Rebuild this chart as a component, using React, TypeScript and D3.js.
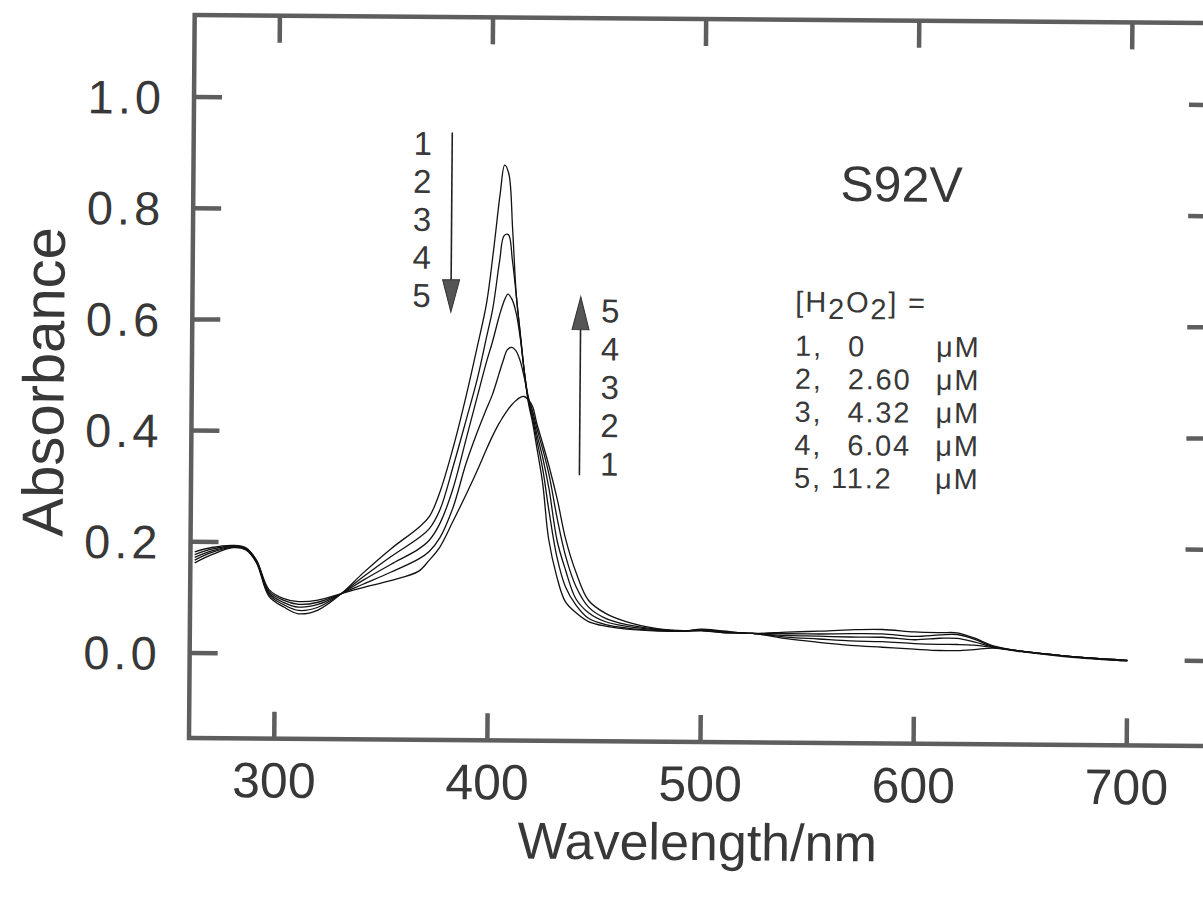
import React, { useEffect, useRef } from 'react';
import * as d3 from 'd3';

// wavelength nodes (nm) shared by all five spectra
const wavelengths = [
  262, 270, 280, 286, 291, 297, 304, 311, 320, 331, 341, 354, 367, 372, 377, 383, 389, 394, 398,
  401, 404, 406, 408, 410, 412, 414, 416, 418, 420, 422, 425, 428, 432, 436, 441, 447, 455, 465,
  480, 492, 500, 510, 524, 540, 555, 570, 585, 600, 612, 620, 628, 637, 650, 665, 680, 700,
];

// absorbance, spectrum 1 (0 uM H2O2) .. 5 (11.2 uM)
const spectrum1 = [
  0.162, 0.177, 0.19, 0.186, 0.163, 0.103, 0.084, 0.072, 0.079, 0.109, 0.146, 0.19, 0.229, 0.249,
  0.295, 0.375, 0.47, 0.558, 0.633, 0.725, 0.83, 0.882, 0.866, 0.765, 0.645, 0.578, 0.51, 0.455, 0.42,
  0.377, 0.31, 0.21, 0.142, 0.098, 0.078, 0.062, 0.054, 0.049, 0.046, 0.046, 0.05, 0.047, 0.043,
  0.046, 0.048, 0.051, 0.052, 0.048, 0.047, 0.047, 0.038, 0.024, 0.015, 0.009, 0.004, 0.0,
];
const spectrum2 = [
  0.167, 0.181, 0.191, 0.187, 0.165, 0.106, 0.088, 0.078, 0.084, 0.109, 0.139, 0.176, 0.21, 0.227,
  0.262, 0.34, 0.425, 0.498, 0.57, 0.625, 0.71, 0.755, 0.757, 0.71, 0.645, 0.575, 0.51, 0.458, 0.427,
  0.39, 0.335, 0.262, 0.177, 0.125, 0.092, 0.068, 0.057, 0.051, 0.047, 0.046, 0.049, 0.046, 0.043,
  0.043, 0.043, 0.044, 0.044, 0.04, 0.043, 0.044, 0.036, 0.023, 0.015, 0.009, 0.004, 0.0,
];
const spectrum3 = [
  0.172, 0.184, 0.192, 0.188, 0.166, 0.109, 0.092, 0.084, 0.089, 0.109, 0.133, 0.162, 0.19, 0.206,
  0.237, 0.3, 0.39, 0.465, 0.525, 0.565, 0.61, 0.635, 0.65, 0.64, 0.615, 0.57, 0.51, 0.462, 0.433,
  0.4, 0.355, 0.3, 0.207, 0.155, 0.103, 0.078, 0.062, 0.054, 0.048, 0.046, 0.048, 0.045, 0.043,
  0.04, 0.039, 0.038, 0.038, 0.034, 0.037, 0.037, 0.031, 0.022, 0.015, 0.009, 0.004, 0.0,
];
const spectrum4 = [
  0.177, 0.187, 0.193, 0.189, 0.167, 0.112, 0.096, 0.089, 0.093, 0.109, 0.126, 0.148, 0.172, 0.186,
  0.211, 0.265, 0.345, 0.4, 0.44, 0.468, 0.505, 0.53, 0.55, 0.554, 0.548, 0.53, 0.5, 0.464, 0.44,
  0.41, 0.37, 0.325, 0.246, 0.18, 0.125, 0.088, 0.068, 0.057, 0.049, 0.047, 0.048, 0.044, 0.043,
  0.037, 0.034, 0.031, 0.03, 0.027, 0.026, 0.026, 0.025, 0.021, 0.015, 0.009, 0.004, -0.001,
];
const spectrum5 = [
  0.182, 0.19, 0.194, 0.19, 0.168, 0.115, 0.099, 0.094, 0.097, 0.109, 0.12, 0.133, 0.15, 0.17,
  0.194, 0.24, 0.288, 0.33, 0.366, 0.392, 0.415, 0.428, 0.44, 0.45, 0.458, 0.464, 0.466, 0.46, 0.448,
  0.418, 0.38, 0.34, 0.28, 0.21, 0.15, 0.1, 0.077, 0.062, 0.05, 0.047, 0.047, 0.044, 0.043,
  0.034, 0.028, 0.023, 0.02, 0.017, 0.015, 0.015, 0.017, 0.02, 0.014, 0.008, 0.003, -0.001,
];

const xTicks = [300, 400, 500, 600, 700];
const yTicks = [0, 0.2, 0.4, 0.6, 0.8, 1.0];
const downLabels = ['1', '2', '3', '4', '5'];
const upLabels = ['5', '4', '3', '2', '1'];
const concIndex = ['1,', '2,', '3,', '4,', '5,'];
const concValues = ['0', '2.60', '4.32', '6.04', '11.2'];

const font = '"Liberation Sans", Arial, Helvetica, sans-serif';
const ink = '#383838';
const frameGrey = '#5e5e5e';

function App() {
  const ref = useRef<SVGSVGElement>(null);

  useEffect(() => {
    const svg = d3.select(ref.current);
    svg.selectAll('*').remove();

    const x = d3.scaleLinear().domain([260, 740]).range([189, 1212]);
    const y = d3.scaleLinear().domain([-0.153, 1.1475]).range([738, 15]);

    // the scanned page is tilted a little
    const g = svg.append('g').attr('transform', 'rotate(0.45, 189, 738)');

    const [x0, x1] = x.range();
    const [y0, y1] = y.range();

    // ticks, all pointing inward
    xTicks.forEach((t) => {
      g.append('line').attr('x1', x(t)).attr('x2', x(t)).attr('y1', y0).attr('y2', y0 - 27)
        .attr('stroke', frameGrey).attr('stroke-width', 4.5);
      g.append('line').attr('x1', x(t)).attr('x2', x(t)).attr('y1', y1).attr('y2', y1 + 27)
        .attr('stroke', frameGrey).attr('stroke-width', 4.5);
      g.append('text').attr('x', x(t)).attr('y', 797).attr('text-anchor', 'middle')
        .attr('font-family', font).attr('font-size', 50).attr('fill', ink).text(t);
    });
    yTicks.forEach((t) => {
      g.append('line').attr('x1', x0).attr('x2', x0 + 28).attr('y1', y(t)).attr('y2', y(t))
        .attr('stroke', frameGrey).attr('stroke-width', 4.5);
      g.append('line').attr('x1', x1).attr('x2', x1 - 28).attr('y1', y(t)).attr('y2', y(t))
        .attr('stroke', frameGrey).attr('stroke-width', 4.5);
      g.append('text').attr('x', 160).attr('y', y(t) + 17).attr('text-anchor', 'end')
        .attr('font-family', font).attr('font-size', 47).attr('letter-spacing', 4)
        .attr('fill', ink).text(t.toFixed(1));
    });

    g.append('rect').attr('x', x0).attr('y', y1).attr('width', x1 - x0).attr('height', y0 - y1)
      .attr('fill', 'none').attr('stroke', frameGrey).attr('stroke-width', 4.5);

    // axis titles
    g.append('text').attr('x', 698).attr('y', 856).attr('text-anchor', 'middle')
      .attr('font-family', font).attr('font-size', 52).attr('fill', ink).text('Wavelength/nm');
    g.append('text').attr('transform', 'translate(61, 383) rotate(-90)').attr('text-anchor', 'middle')
      .attr('font-family', font).attr('font-size', 58).attr('fill', ink).text('Absorbance');

    // spectra
    const line = d3.line<[number, number]>()
      .x((d) => x(d[0]))
      .y((d) => y(d[1]))
      .curve(d3.curveCatmullRom.alpha(0.5));
    [spectrum1, spectrum2, spectrum3, spectrum4, spectrum5].forEach((s) => {
      g.append('path')
        .datum(wavelengths.map((w, i) => [w, s[i]] as [number, number]))
        .attr('d', line)
        .attr('fill', 'none')
        .attr('stroke', '#111')
        .attr('stroke-width', 1.3);
    });

    // sample name
    g.append('text').attr('x', 836).attr('y', 196).attr('font-family', font)
      .attr('font-size', 50).attr('fill', ink).text('S92V');

    // down arrow (Soret decrease)
    const dx = x(381.3);
    g.append('line').attr('x1', dx).attr('x2', dx).attr('y1', y(0.94)).attr('y2', y(0.66))
      .attr('stroke', '#222').attr('stroke-width', 1.6);
    g.append('path')
      .attr('d', `M${dx - 8.5},${y(0.675)} L${dx + 8.5},${y(0.675)} L${dx},${y(0.617)} Z`)
      .attr('fill', '#555').attr('stroke', '#333').attr('stroke-width', 1);
    downLabels.forEach((lab, i) => {
      g.append('text').attr('x', 418).attr('y', 141 + i * 38 + 12).attr('text-anchor', 'middle')
        .attr('font-family', font).attr('font-size', 33).attr('fill', ink).text(lab);
    });

    // up arrow (growth near 425 nm)
    const ux = x(442.2);
    g.append('line').attr('x1', ux).attr('x2', ux).attr('y1', y(0.325)).attr('y2', y(0.6))
      .attr('stroke', '#222').attr('stroke-width', 1.6);
    g.append('path')
      .attr('d', `M${ux - 8.5},${y(0.587)} L${ux + 8.5},${y(0.587)} L${ux},${y(0.646)} Z`)
      .attr('fill', '#555').attr('stroke', '#333').attr('stroke-width', 1);
    upLabels.forEach((lab, i) => {
      g.append('text').attr('x', 607).attr('y', 307 + i * 38.3 + 12).attr('text-anchor', 'middle')
        .attr('font-family', font).attr('font-size', 33).attr('fill', ink).text(lab);
    });

    // concentration legend
    const fs = 29;
    const ls = 1.8;
    const head = g.append('text').attr('x', 792).attr('y', 307).attr('font-family', font)
      .attr('font-size', fs).attr('letter-spacing', ls).attr('fill', ink);
    head.append('tspan').text('[H');
    head.append('tspan').attr('dy', 7).text('2');
    head.append('tspan').attr('dy', -7).text('O');
    head.append('tspan').attr('dy', 7).text('2');
    head.append('tspan').attr('dy', -7).text('] =');
    concIndex.forEach((lab, i) => {
      const by = 351 + i * 33;
      g.append('text').attr('x', 792).attr('y', by).attr('font-family', font)
        .attr('font-size', fs).attr('letter-spacing', ls).attr('fill', ink).text(lab);
      g.append('text').attr('x', i === 4 ? 829 : 845).attr('y', by).attr('font-family', font)
        .attr('font-size', fs).attr('letter-spacing', ls).attr('fill', ink).text(concValues[i]);
      g.append('text').attr('x', 933).attr('y', by).attr('font-family', font)
        .attr('font-size', fs).attr('letter-spacing', ls).attr('fill', ink).text('\u03bcM');
    });
  }, []);

  return (
    <div style={{ position: 'absolute', left: 0, top: 0 }}>
      <svg ref={ref} width={1203} height={900} style={{ display: 'block', background: '#fff' }} />
    </div>
  );
}

export default App;
